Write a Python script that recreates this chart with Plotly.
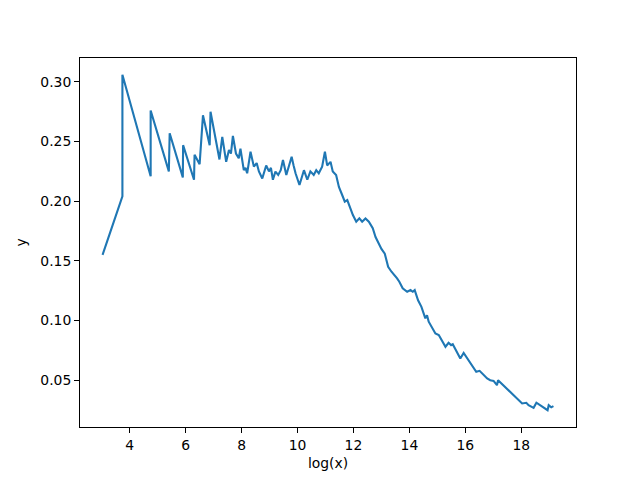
import plotly.graph_objects as go

log_x = [3.03, 3.74, 3.74, 4.75, 4.75, 5.40, 5.43, 5.90, 5.91, 6.30, 6.32, 6.50, 6.62, 6.72,
         6.86, 6.89, 7.00, 7.21, 7.31, 7.45, 7.55, 7.62, 7.69, 7.80, 7.90, 7.96, 8.08, 8.14,
         8.20, 8.32, 8.44, 8.54, 8.62, 8.74, 8.88, 8.98, 9.05, 9.12, 9.21, 9.31, 9.40, 9.48,
         9.60, 9.68, 9.79, 9.86, 9.93, 10.07, 10.15, 10.23, 10.35, 10.46, 10.58, 10.67, 10.76,
         10.88, 10.98, 11.06, 11.18, 11.26, 11.38, 11.48, 11.60, 11.69, 11.78, 11.86, 11.98,
         12.10, 12.21, 12.31, 12.43, 12.55, 12.69, 12.79, 12.90, 13.00, 13.12, 13.24, 13.36,
         13.47, 13.56, 13.64, 13.76, 13.92, 14.04, 14.12, 14.19, 14.31, 14.43, 14.57, 14.63,
         14.69, 14.87, 14.93, 15.05, 15.29, 15.40, 15.49, 15.55, 15.70, 15.82, 15.94, 16.18,
         16.39, 16.51, 16.60, 16.78, 16.89, 17.01, 17.13, 17.17, 18.03, 18.18, 18.26, 18.44,
         18.54, 18.74, 18.94, 18.98, 19.07, 19.15]
y_vals = [0.155, 0.204, 0.306, 0.221, 0.276, 0.225, 0.257, 0.220, 0.247, 0.218, 0.239, 0.231, 0.272, 0.262,
          0.247, 0.275, 0.262, 0.235, 0.254, 0.233, 0.243, 0.240, 0.2547, 0.240, 0.236, 0.244, 0.226, 0.228,
          0.2234, 0.2415, 0.229, 0.232, 0.225, 0.219, 0.230, 0.225, 0.228, 0.218, 0.2248, 0.222, 0.226, 0.2346,
          0.222, 0.228, 0.2373, 0.230, 0.2234, 0.2136, 0.220, 0.226, 0.218, 0.225, 0.222, 0.226, 0.2234,
          0.229, 0.2415, 0.230, 0.233, 0.225, 0.222, 0.212, 0.205, 0.1996, 0.201, 0.1954, 0.1884,
          0.1828, 0.1856, 0.1828, 0.1856, 0.1828, 0.1773, 0.170, 0.165, 0.160, 0.156, 0.145, 0.1409,
          0.138, 0.1353, 0.1325, 0.127, 0.1241, 0.1255, 0.1241, 0.1255, 0.117, 0.1115, 0.1018, 0.1045,
          0.099, 0.092, 0.0892, 0.0878, 0.078, 0.0813, 0.0794, 0.0802, 0.0738, 0.0682, 0.0729, 0.064,
          0.057, 0.0578, 0.0556, 0.0514, 0.050, 0.0494, 0.0458, 0.050, 0.0305, 0.0310, 0.029, 0.0268,
          0.0311, 0.0282, 0.0248, 0.029, 0.0272, 0.0282]

x_ticks = [4, 6, 8, 10, 12, 14, 16, 18]
y_ticks = [0.05, 0.10, 0.15, 0.20, 0.25, 0.30]

def pad(vals, frac=0.05):
    lo, hi = min(vals), max(vals)
    d = (hi - lo) * frac
    return [lo - d, hi + d]

font = dict(family="DejaVu Sans", size=13.9, color="black")

fig = go.Figure(go.Scatter(x=log_x, y=y_vals, mode="lines",
                           line=dict(color="#1f77b4", width=2.1)))
axis_common = dict(showline=True, linecolor="black", linewidth=1.1, mirror=True,
                   ticks="outside", ticklen=4.9, tickwidth=1.1, tickcolor="black",
                   showgrid=False, zeroline=False, tickfont=font)
fig.update_xaxes(range=pad(log_x), tickvals=x_ticks, ticktext=[str(t) for t in x_ticks],
                 title=dict(text="log(x)", font=font, standoff=6), **axis_common)
fig.update_yaxes(range=pad(y_vals), tickvals=y_ticks, ticktext=[f"{t:.2f}" for t in y_ticks],
                 title=dict(text="y", font=font, standoff=10), **axis_common)
fig.update_layout(width=640, height=480, margin=dict(l=72, r=72, t=50, b=61),
                  plot_bgcolor="white", paper_bgcolor="white", showlegend=False, font=font)
fig.write_html("out.html")
